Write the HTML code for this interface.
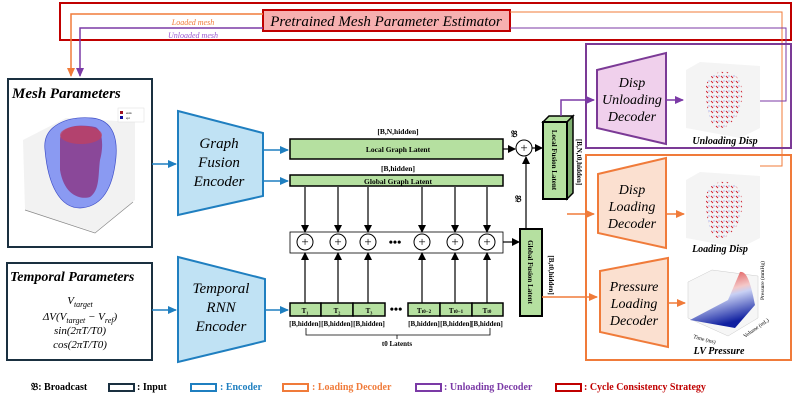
<!DOCTYPE html>
<html><head><meta charset="utf-8"><style>
body{margin:0;background:#fff}
svg{display:block}
.s{font-family:"Liberation Serif",serif}
</style></head><body>
<svg width="793" height="401" viewBox="0 0 793 401" xmlns="http://www.w3.org/2000/svg" class="s">
<defs>
<marker id="ab" markerWidth="8" markerHeight="8" refX="7" refY="4" orient="auto" markerUnits="userSpaceOnUse"><path d="M0,0 L8,4 L0,8 z" fill="#000"/></marker>
<marker id="abl" markerWidth="9" markerHeight="8" refX="8" refY="4" orient="auto" markerUnits="userSpaceOnUse"><path d="M0,0 L9,4 L0,8 z" fill="#1f7fc0"/></marker>
<marker id="ao" markerWidth="9" markerHeight="8" refX="8" refY="4" orient="auto" markerUnits="userSpaceOnUse"><path d="M0,0 L9,4 L0,8 z" fill="#f07b3a"/></marker>
<marker id="ap" markerWidth="9" markerHeight="8" refX="8" refY="4" orient="auto" markerUnits="userSpaceOnUse"><path d="M0,0 L9,4 L0,8 z" fill="#7b3aa6"/></marker>
<linearGradient id="pg" x1="0" y1="0" x2="0.3" y2="1"><stop offset="0" stop-color="#d62020"/><stop offset="0.45" stop-color="#f4c8c8"/><stop offset="0.55" stop-color="#c8d0f4"/><stop offset="1" stop-color="#1020a0"/></linearGradient>
<pattern id="dots" width="5" height="5" patternUnits="userSpaceOnUse"><path d="M1,1 L3,3" stroke="#d02030" stroke-width="1"/><circle cx="4" cy="1" r="0.5" fill="#5060e0"/></pattern>
</defs>

<!-- cycle consistency -->
<rect x="60" y="3" width="731" height="37" fill="none" stroke="#c00000" stroke-width="2"/>
<rect x="263" y="10" width="247" height="21" fill="#f7b0b0" stroke="#c00000" stroke-width="2"/>
<text x="386" y="26" font-size="15" font-style="italic" text-anchor="middle">Pretrained Mesh Parameter Estimator</text>
<path d="M263,14 H71 V76" fill="none" stroke="#f07b3a" stroke-width="1.5" marker-end="url(#ao)"/>
<path d="M263,28 H80 V76" fill="none" stroke="#7b3aa6" stroke-width="1.5" marker-end="url(#ap)"/>
<text x="193" y="25" font-size="8" font-style="italic" fill="#f07b3a" text-anchor="middle">Loaded mesh</text>
<text x="193" y="38" font-size="8" font-style="italic" fill="#9b5ad0" text-anchor="middle">Unloaded mesh</text>
<path d="M510,12 H782 V166 H760" fill="none" stroke="#f07b3a" stroke-width="1"/>
<path d="M510,28 H786 V101 H760" fill="none" stroke="#7b3aa6" stroke-width="1"/>

<!-- Mesh params -->
<rect x="8" y="79" width="144" height="168" fill="#fff" stroke="#1a3040" stroke-width="2"/>
<text x="12" y="98" font-size="15" font-style="italic" font-weight="bold">Mesh Parameters</text>
<path d="M23,140 L66,118 L135,122 L135,200 L95,232 L25,210 z" fill="#f2f2f2"/>
<path d="M25,210 L95,233 L133,202" fill="none" stroke="#888" stroke-width="0.7"/>
<rect x="118" y="108" width="26" height="14" fill="#fff" stroke="#ddd" stroke-width="0.5"/>
<rect x="120" y="111" width="3" height="3" fill="#a01020"/><rect x="120" y="116" width="3" height="3" fill="#1010a0"/>
<text x="126" y="114" font-size="3">endo</text><text x="126" y="119" font-size="3">epi</text>
<path d="M45,150 C42,125 68,116 92,118 C114,120 119,140 115,165 C111,192 100,207 80,208 C60,208 48,185 45,150 z" fill="#8a9af2" stroke="#4050c8" stroke-width="0.7"/>
<path d="M60,140 C60,125 80,124 95,127 C104,130 103,150 100,160 C98,175 100,190 90,197 C80,200 64,195 60,170 z" fill="#8a3a8a" opacity="0.85"/>
<ellipse cx="81" cy="135" rx="21" ry="9" fill="#c04060" opacity="0.75"/>

<!-- Temporal params -->
<rect x="7" y="263" width="145" height="97" fill="#fff" stroke="#1a3040" stroke-width="2"/>
<text x="10" y="281" font-size="14" font-style="italic" font-weight="bold">Temporal Parameters</text>
<g font-size="11" font-style="italic" text-anchor="middle">
<text x="80" y="304">V<tspan font-size="8" dy="3">target</tspan></text>
<text x="80" y="320">ΔV(V<tspan font-size="8" dy="3">target</tspan><tspan dy="-3"> − V</tspan><tspan font-size="8" dy="3">ref</tspan><tspan dy="-3">)</tspan></text>
<text x="80" y="334">sin(2πT/T0)</text>
<text x="80" y="348">cos(2πT/T0)</text>
</g>

<!-- Encoders -->
<path d="M178,111 L263,133 L263,196 L178,215 z" fill="#c0e2f4" stroke="#1f7fc0" stroke-width="2"/>
<g font-size="15" font-style="italic" text-anchor="middle"><text x="219" y="148">Graph</text><text x="219" y="167">Fusion</text><text x="219" y="186">Encoder</text></g>
<path d="M178,257 L265,279 L265,341 L178,362 z" fill="#c0e2f4" stroke="#1f7fc0" stroke-width="2"/>
<g font-size="15" font-style="italic" text-anchor="middle"><text x="221" y="293">Temporal</text><text x="221" y="312">RNN</text><text x="221" y="331">Encoder</text></g>
<g stroke="#1f7fc0" stroke-width="1.5" fill="none">
<path d="M152,164 H176" marker-end="url(#abl)"/>
<path d="M152,310 H176" marker-end="url(#abl)"/>
<path d="M264,150 H288" marker-end="url(#abl)"/>
<path d="M264,181 H288" marker-end="url(#abl)"/>
<path d="M266,310 H288" marker-end="url(#abl)"/>
</g>

<!-- Latents -->
<g font-size="7.5" font-weight="bold" text-anchor="middle">
<text x="398" y="134">[B,N,hidden]</text>
<rect x="290" y="139" width="213" height="20" fill="#b5e0a0" stroke="#000" stroke-width="1.5"/>
<text x="398" y="152">Local Graph Latent</text>
<text x="398" y="171">[B,hidden]</text>
<rect x="290" y="175" width="213" height="11" fill="#b5e0a0" stroke="#000" stroke-width="1.5"/>
<text x="398" y="184">Global Graph Latent</text>
</g>
<rect x="290" y="232" width="213" height="21" fill="#fff" stroke="#000" stroke-width="0.8"/>
<g stroke="#000" stroke-width="1" fill="none">
<circle cx="305" cy="242" r="8"/><circle cx="338" cy="242" r="8"/><circle cx="368" cy="242" r="8"/>
<circle cx="422" cy="242" r="8"/><circle cx="455" cy="242" r="8"/><circle cx="487" cy="242" r="8"/>
</g>
<g font-size="13" text-anchor="middle"><text x="305" y="246">+</text><text x="338" y="246">+</text><text x="368" y="246">+</text><text x="422" y="246">+</text><text x="455" y="246">+</text><text x="487" y="246">+</text></g>
<text x="395" y="246" font-size="12" font-weight="bold" text-anchor="middle">•••</text>
<g stroke="#000" stroke-width="1.2">
<path d="M305,187 V232" marker-end="url(#ab)"/><path d="M338,187 V232" marker-end="url(#ab)"/><path d="M368,187 V232" marker-end="url(#ab)"/>
<path d="M422,187 V232" marker-end="url(#ab)"/><path d="M455,187 V232" marker-end="url(#ab)"/><path d="M487,187 V232" marker-end="url(#ab)"/>
<path d="M305,303 V253" marker-end="url(#ab)"/><path d="M338,303 V253" marker-end="url(#ab)"/><path d="M368,303 V253" marker-end="url(#ab)"/>
<path d="M422,303 V253" marker-end="url(#ab)"/><path d="M455,303 V253" marker-end="url(#ab)"/><path d="M487,303 V253" marker-end="url(#ab)"/>
<path d="M503,149 H515" marker-end="url(#ab)"/>
<path d="M532,148 H542" marker-end="url(#ab)"/>
<path d="M503,242 H519" marker-end="url(#ab)"/>
<path d="M526,229 V157" marker-end="url(#ab)"/>
</g>
<g fill="#b5e0a0" stroke="#000" stroke-width="1.5">
<rect x="290" y="303" width="31" height="13"/><rect x="321" y="303" width="32" height="13"/><rect x="353" y="303" width="32" height="13"/>
<rect x="408" y="303" width="32" height="13"/><rect x="440" y="303" width="32" height="13"/><rect x="472" y="303" width="31" height="13"/>
</g>
<g font-size="7" font-weight="bold" text-anchor="middle">
<text x="305" y="313">T₁</text><text x="337" y="313">T₂</text><text x="369" y="313">T₃</text>
<text x="424" y="313">T<tspan font-size="5">t0−2</tspan></text><text x="456" y="313">T<tspan font-size="5">t0−1</tspan></text><text x="487" y="313">T<tspan font-size="5">t0</tspan></text>
<text x="305" y="326">[B,hidden]</text><text x="337" y="326">[B,hidden]</text><text x="369" y="326">[B,hidden]</text>
<text x="424" y="326">[B,hidden]</text><text x="456" y="326">[B,hidden]</text><text x="487" y="326">[B,hidden]</text>
<text x="397" y="346">t0 Latents</text>
</g>
<text x="396" y="313" font-size="12" font-weight="bold" text-anchor="middle">•••</text>
<path d="M306,328 V335 H490 V328 M397,335 V339" fill="none" stroke="#000" stroke-width="0.8"/>

<circle cx="524" cy="148" r="8" fill="#fff" stroke="#000"/><text x="524" y="152" font-size="13" text-anchor="middle">+</text>
<text x="511" y="137" font-size="9" font-weight="bold">𝔅</text>
<text x="515" y="202" font-size="9" font-weight="bold">𝔅</text>

<!-- Global fusion latent -->
<rect x="520" y="229" width="22" height="87" fill="#b5e0a0" stroke="#000" stroke-width="2"/>
<text transform="translate(528,272) rotate(90)" font-size="7" font-weight="bold" text-anchor="middle">Global Fusion Latent</text>
<text transform="translate(549,275) rotate(90)" font-size="7" font-weight="bold" text-anchor="middle">[B,t0,hidden]</text>
<!-- Local fusion latent 3D -->
<path d="M543,122 L549,116 L573,116 L567,122 z" fill="#b5e0a0" stroke="#000" stroke-width="1.5"/>
<path d="M567,122 L573,116 L573,193 L567,199 z" fill="#7fb070" stroke="#000" stroke-width="1.5"/>
<rect x="543" y="122" width="24" height="77" fill="#b5e0a0" stroke="#000" stroke-width="2"/>
<text transform="translate(552,160) rotate(90)" font-size="7" font-weight="bold" text-anchor="middle">Local Fusion Latent</text>
<text transform="translate(577,162) rotate(90)" font-size="7" font-weight="bold" text-anchor="middle">[B,N,t0,hidden]</text>

<!-- Decoder boxes -->
<rect x="586" y="44" width="205" height="104" fill="none" stroke="#7b3a96" stroke-width="2"/>
<rect x="586" y="155" width="205" height="205" fill="none" stroke="#f07b3a" stroke-width="2"/>
<path d="M597,70 L666,53 L666,144 L597,128 z" fill="#f0d0ec" stroke="#7b3a96" stroke-width="2"/>
<g font-size="14" font-style="italic" text-anchor="middle"><text x="632" y="87">Disp</text><text x="632" y="104">Unloading</text><text x="632" y="121">Decoder</text></g>
<path d="M598,174 L666,158 L666,248 L598,233 z" fill="#fbe0d0" stroke="#f07b3a" stroke-width="2"/>
<g font-size="14" font-style="italic" text-anchor="middle"><text x="632" y="194">Disp</text><text x="632" y="211">Loading</text><text x="632" y="228">Decoder</text></g>
<path d="M600,271 L668,258 L668,347 L600,332 z" fill="#fbe0d0" stroke="#f07b3a" stroke-width="2"/>
<g font-size="14" font-style="italic" text-anchor="middle"><text x="634" y="291">Pressure</text><text x="634" y="308">Loading</text><text x="634" y="325">Decoder</text></g>
<path d="M561,116 V100 H594" fill="none" stroke="#7b3aa6" stroke-width="1.5" marker-end="url(#ap)"/>
<path d="M567,214 H594" fill="none" stroke="#f07b3a" stroke-width="1.5" marker-end="url(#ao)"/>
<path d="M542,297 H597" fill="none" stroke="#f07b3a" stroke-width="1.5" marker-end="url(#ao)"/>
<path d="M666,100 H683" fill="none" stroke="#7b3aa6" stroke-width="1.5" marker-end="url(#ap)"/>
<path d="M666,214 H684" fill="none" stroke="#f07b3a" stroke-width="1.5" marker-end="url(#ao)"/>
<path d="M668,303 H685" fill="none" stroke="#f07b3a" stroke-width="1.5" marker-end="url(#ao)"/>

<!-- disp images -->
<g>
<path d="M686,70 L700,62 L760,66 L760,128 L740,138 L686,128 z" fill="#f4f4f4"/>
<path d="M706,88 C706,68 740,64 742,90 C744,115 728,130 718,128 C708,124 706,105 706,88 z" fill="url(#dots)"/>
<path d="M686,180 L700,172 L760,176 L760,238 L740,248 L686,238 z" fill="#f4f4f4"/>
<path d="M706,198 C706,178 740,174 742,200 C744,225 728,240 718,238 C708,234 706,215 706,198 z" fill="url(#dots)"/>
</g>
<g font-size="10" font-weight="bold" font-style="italic" text-anchor="middle">
<text x="725" y="144">Unloading Disp</text>
<text x="720" y="252">Loading Disp</text>
<text x="719" y="354">LV Pressure</text>
</g>
<!-- pressure plot -->
<path d="M688,282 L712,270 L758,276 L758,318 L728,336 L688,318 z" fill="#f6f6f6" stroke="#ccc" stroke-width="0.5"/>
<path d="M690,320 L728,300 L740,272 C748,270 752,290 755,305 L735,328 z" fill="url(#pg)"/>
<text transform="translate(745,338) rotate(-35)" font-size="5.5">Volume (mL)</text>
<text x="693" y="338" font-size="5.5" transform="rotate(15,693,338)">Time (ms)</text>
<text transform="translate(764,300) rotate(-90)" font-size="5.5">Pressure (mmHg)</text>

<!-- legend -->
<g font-size="10" font-weight="bold">
<text x="31" y="390">𝔅: Broadcast</text>
<rect x="109" y="384" width="25" height="7" fill="none" stroke="#1a3040" stroke-width="2"/><text x="137" y="390">: Input</text>
<rect x="191" y="384" width="25" height="7" fill="none" stroke="#1f7fc0" stroke-width="2"/><text x="220" y="390" fill="#1f7fc0">: Encoder</text>
<rect x="283" y="384" width="25" height="7" fill="none" stroke="#f07b3a" stroke-width="2"/><text x="312" y="390" fill="#f07b3a">: Loading Decoder</text>
<rect x="416" y="384" width="25" height="7" fill="none" stroke="#7b3aa6" stroke-width="2"/><text x="444" y="390" fill="#7b3aa6">: Unloading Decoder</text>
<rect x="556" y="384" width="25" height="7" fill="none" stroke="#c00000" stroke-width="2"/><text x="584" y="390" fill="#c00000">: Cycle Consistency Strategy</text>
</g>
</svg>
</body></html>
